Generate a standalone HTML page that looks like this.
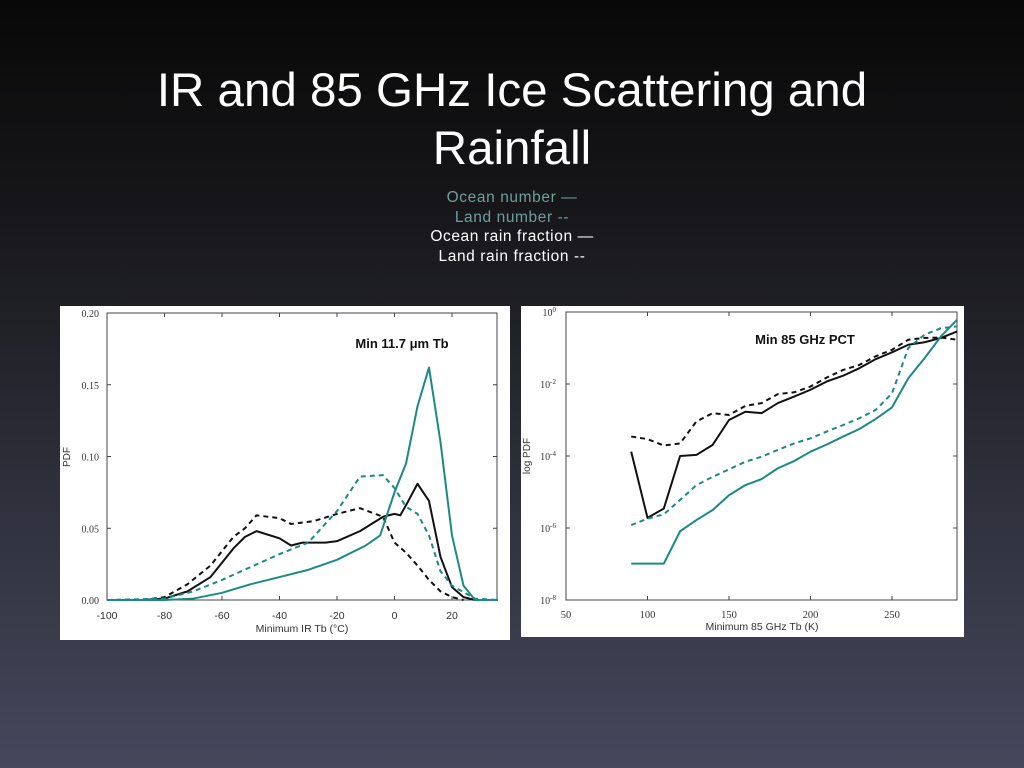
<!DOCTYPE html>
<html><head><meta charset="utf-8">
<style>
html,body{margin:0;padding:0;width:1024px;height:768px;overflow:hidden}
body{background:linear-gradient(#080808 0px,#161619 200px,#2b2c36 450px,#45475c 768px);font-family:"Liberation Sans",sans-serif}
#title{position:absolute;left:0;top:62px;width:1024px;text-align:center;color:#fff;font-size:47.5px;line-height:58px}
#legend{position:absolute;left:0;top:188px;width:1024px;text-align:center;font-size:15.5px;line-height:19.5px;letter-spacing:0.6px}
.t{color:#6e9e9e}.w{color:#fff}
svg{position:absolute;left:0;top:0}
</style></head><body>
<div id="title">IR and 85 GHz Ice Scattering and<br>Rainfall</div>
<div id="legend">
<div class="t">Ocean number —</div>
<div class="t">Land number --</div>
<div class="w">Ocean rain fraction —</div>
<div class="w">Land rain fraction --</div>
</div>
<svg id="svg" width="1024" height="768"></svg>
<script>
// Left chart data (x in °C, PDF)
const irOceanNumX=[-100,-80,-70,-60,-50,-40,-30,-20,-10,-5,0,4,8,12,16,20,24,28,36];
const irOceanNumY=[0,0,0.001,0.005,0.011,0.016,0.021,0.028,0.038,0.045,0.075,0.095,0.135,0.162,0.11,0.045,0.01,0,0];
const irLandNumX=[-100,-80,-70,-60,-50,-40,-30,-20,-12,-4,0,4,8,12,16,20,28,36];
const irLandNumY=[0,0.001,0.006,0.014,0.023,0.032,0.04,0.062,0.086,0.087,0.078,0.065,0.06,0.045,0.02,0.01,0.001,0];
const irOceanRainX=[-100,-88,-80,-72,-64,-56,-52,-48,-40,-36,-32,-24,-20,-12,-4,0,2,4,8,12,16,20,24,28];
const irOceanRainY=[0,0,0.001,0.006,0.016,0.036,0.044,0.048,0.043,0.038,0.040,0.040,0.041,0.048,0.058,0.060,0.059,0.066,0.081,0.069,0.030,0.009,0.002,0];
const irLandRainX=[-100,-88,-80,-72,-64,-56,-52,-48,-40,-36,-28,-20,-12,-4,0,4,8,12,16,20,24];
const irLandRainY=[0,0,0.002,0.011,0.024,0.044,0.050,0.059,0.057,0.053,0.055,0.060,0.064,0.058,0.040,0.033,0.024,0.014,0.006,0.002,0];
const irXTicks=[-100,-80,-60,-40,-20,0,20];
const irYTicks=[0,0.05,0.10,0.15,0.20];
const irYLabels=["0.00","0.05","0.10","0.15","0.20"];
// Right chart data (x in K, log10 PDF)
const pctX=[90,100,110,120,130,140,150,160,170,180,190,200,210,220,230,240,250,260,270,280,290];
const pctOceanRain=[-3.88,-5.72,-5.46,-4.0,-3.97,-3.69,-3.0,-2.77,-2.81,-2.53,-2.35,-2.16,-1.93,-1.77,-1.56,-1.31,-1.12,-0.91,-0.84,-0.72,-0.54];
const pctLandRain=[-3.46,-3.53,-3.71,-3.65,-3.04,-2.81,-2.86,-2.61,-2.53,-2.28,-2.23,-2.07,-1.82,-1.61,-1.47,-1.23,-1.05,-0.77,-0.72,-0.71,-0.77];
const pctLandNum=[-5.92,-5.74,-5.62,-5.22,-4.81,-4.58,-4.37,-4.16,-4.02,-3.83,-3.65,-3.51,-3.32,-3.14,-2.95,-2.72,-2.26,-1.0,-0.63,-0.45,-0.40];
const pctOceanNum=[-6.99,-6.99,-6.99,-6.09,-5.78,-5.5,-5.09,-4.81,-4.64,-4.34,-4.14,-3.88,-3.68,-3.46,-3.25,-2.97,-2.65,-1.84,-1.28,-0.68,-0.21];
const pctXTicks=[50,100,150,200,250];
const pctYTicks=[0,-2,-4,-6,-8];

const NS="http://www.w3.org/2000/svg";
const svg=document.getElementById('svg');
function mk(tag,attrs,parent){const e=document.createElementNS(NS,tag);for(const k in attrs)e.setAttribute(k,attrs[k]);(parent||svg).appendChild(e);return e;}
const TEAL="#1b8a84";

// Left chart
const lx=v=>107+(v+100)*345/120, ly=v=>600-v*287/0.2;
const pl=mk('rect',{x:60,y:306,width:450,height:334,fill:'#fff'});

const lf=mk('rect',{x:107,y:313,width:390,height:287,fill:'none',stroke:'#444','stroke-width':1});

irXTicks.forEach(t=>{const x=lx(t);mk('line',{x1:x,x2:x,y1:600,y2:596,stroke:'#444'});mk('line',{x1:x,x2:x,y1:313,y2:317,stroke:'#444'});
 const tx=mk('text',{x:x,y:619,'text-anchor':'middle','font-size':10.5,fill:'#333'});tx.textContent=t;
 });
irYTicks.forEach((t,i)=>{const y=ly(t);mk('line',{x1:107,x2:111,y1:y,y2:y,stroke:'#444'});mk('line',{x1:497,x2:493,y1:y,y2:y,stroke:'#444'});
 const tx=mk('text',{x:99,y:y+4,'text-anchor':'end','font-size':10,fill:'#333','font-family':'Liberation Serif'});tx.textContent=irYLabels[i];
 });
let t1=mk('text',{x:302,y:632,'text-anchor':'middle','font-size':10.5,fill:'#333'});t1.textContent='Minimum IR Tb (°C)';

let t2=mk('text',{x:70,y:457,'text-anchor':'middle','font-size':10,fill:'#333',transform:'rotate(-90 70 457)'});t2.textContent='PDF';

let t3=mk('text',{x:402,y:348,'text-anchor':'middle','font-size':13,fill:'#111','font-weight':'bold'});t3.textContent='Min 11.7 μm Tb';

function line(xs,ys,fx,fy,color,dash,name){const p=mk('polyline',{points:xs.map((x,i)=>fx(x)+','+fy(ys[i])).join(' '),fill:'none',stroke:color,'stroke-width':2,'stroke-dasharray':dash?'5,4':'none','stroke-linejoin':'round'});
 }
line(irLandRainX,irLandRainY,lx,ly,'#111',true,'ir-land-rain-fraction-line');
line(irOceanRainX,irOceanRainY,lx,ly,'#111',false,'ir-ocean-rain-fraction-line');
line(irLandNumX,irLandNumY,lx,ly,TEAL,true,'ir-land-number-line');
line(irOceanNumX,irOceanNumY,lx,ly,TEAL,false,'ir-ocean-number-line');

// Right chart
const rx=v=>566+(v-50)*326/200, ry=v=>312-v*36;
const pr=mk('rect',{x:521,y:306,width:443,height:331,fill:'#fff'});

const rf=mk('rect',{x:566,y:312,width:391,height:288,fill:'none',stroke:'#444','stroke-width':1});

pctXTicks.forEach(t=>{const x=rx(t);mk('line',{x1:x,x2:x,y1:600,y2:596,stroke:'#444'});mk('line',{x1:x,x2:x,y1:312,y2:316,stroke:'#444'});
 const tx=mk('text',{x:x,y:618,'text-anchor':'middle','font-size':10.5,fill:'#333','font-family':'Liberation Serif'});tx.textContent=t;
 });
pctYTicks.forEach(t=>{const y=ry(t);mk('line',{x1:566,x2:570,y1:y,y2:y,stroke:'#444'});mk('line',{x1:957,x2:953,y1:y,y2:y,stroke:'#444'});
 const tx=mk('text',{x:556,y:y+4,'text-anchor':'end','font-size':10,fill:'#333','font-family':'Liberation Serif'});
 tx.textContent='10';const s=mk('tspan',{dy:-4,'font-size':7},tx);s.textContent=t;
 });
let t4=mk('text',{x:762,y:630,'text-anchor':'middle','font-size':10.5,fill:'#333'});t4.textContent='Minimum 85 GHz Tb (K)';

let t5=mk('text',{x:530,y:456,'text-anchor':'middle','font-size':10,fill:'#333',transform:'rotate(-90 530 456)'});t5.textContent='log PDF';

let t6=mk('text',{x:805,y:344,'text-anchor':'middle','font-size':13,fill:'#111','font-weight':'bold'});t6.textContent='Min 85 GHz PCT';

line(pctX,pctLandRain,rx,ry,'#111',true,'pct-land-rain-fraction-line');
line(pctX,pctOceanRain,rx,ry,'#111',false,'pct-ocean-rain-fraction-line');
line(pctX,pctLandNum,rx,ry,TEAL,true,'pct-land-number-line');
line(pctX,pctOceanNum,rx,ry,TEAL,false,'pct-ocean-number-line');
</script>
</body></html>
